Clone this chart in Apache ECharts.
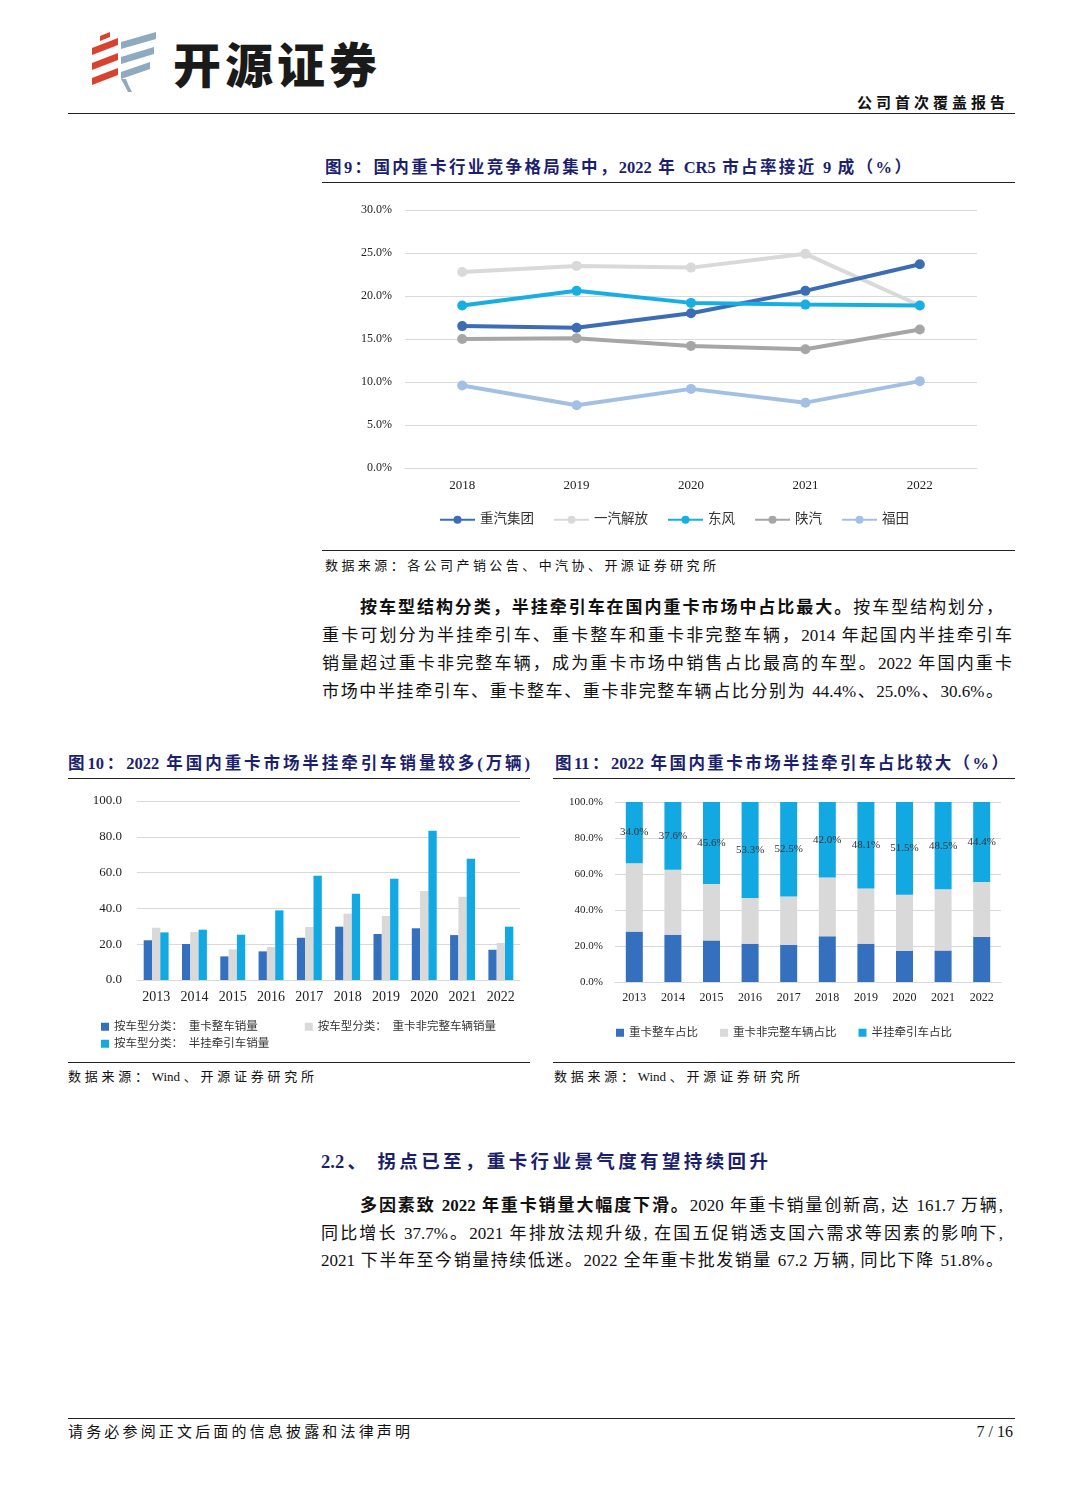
<!DOCTYPE html>
<html>
<head>
<meta charset="utf-8">
<script src="https://cdn.jsdelivr.net/npm/echarts@6/dist/echarts.min.js"></script>
<style>
html,body{margin:0;padding:0;background:#fff;}
body{width:1080px;height:1510px;position:relative;overflow:hidden;font-family:'Liberation Serif','Noto Sans CJK SC',serif;color:#111;}
.a{position:absolute;}
.j{position:absolute;text-align:justify;text-align-last:justify;line-height:22px;}
.rule{position:absolute;height:0;border-top:1.3px solid #222;}
.title{color:#1c1f6e;font-weight:bold;}
.chart{position:absolute;}
b{font-weight:bold;}
</style>
</head>
<body>
<!-- logo -->
<svg class="a" style="left:88px;top:30px" width="75" height="64" viewBox="0 0 75 64">
  <polygon points="4,18 30,8 30,15 4,25" fill="#d9422e"/>
  <polygon points="4,33 30,23 30,30 4,40" fill="#d9422e"/>
  <polygon points="4,48 30,38 30,45 4,55" fill="#d9422e"/>
  <polygon points="12,6 22,2 22,7 12,11" fill="#d9422e"/>
  <polygon points="33,12 68,2 68,9 33,19" fill="#8fa9bf"/>
  <polygon points="33,27 66,17 66,24 33,34" fill="#8fa9bf"/>
  <polygon points="33,42 62,32 62,39 33,49" fill="#8fa9bf"/>
  <path d="M33,49 Q37,56 40,62 L44,62 Q40,55 38,49 Z" fill="#8fa9bf"/>
</svg>
<div class="a" style="left:173px;top:30px;font-family:'Noto Sans CJK SC';font-weight:900;font-size:48px;line-height:64px;letter-spacing:4px;color:#1a1a1a;">开源证券</div>
<div class="j" style="left:857px;top:92px;width:148px;font-size:15px;font-weight:bold;">公司首次覆盖报告</div>
<div class="rule" style="left:68px;top:113px;width:947px;border-top-width:1.6px;"></div>

<!-- figure 9 -->
<div class="j title" style="left:325px;top:157px;width:586px;font-size:16.5px;">图9：国内重卡行业竞争格局集中，2022 年 CR5 市占率接近 9 成（%）</div>
<div class="rule" style="left:322px;top:182px;width:693px;"></div>
<div id="c1" class="chart" style="left:322px;top:190px;width:693px;height:355px;"></div>
<div class="rule" style="left:322px;top:550px;width:693px;"></div>
<div class="j" style="left:325px;top:555px;width:391px;font-size:13px;">数据来源：各公司产销公告、中汽协、开源证券研究所</div>

<!-- paragraph 1 -->
<div class="j" style="left:360px;top:597px;width:643px;font-size:17px;"><b>按车型结构分类，半挂牵引车在国内重卡市场中占比最大。</b>按车型结构划分，</div>
<div class="j" style="left:322px;top:625px;width:690px;font-size:17px;">重卡可划分为半挂牵引车、重卡整车和重卡非完整车辆，2014 年起国内半挂牵引车</div>
<div class="j" style="left:322px;top:653px;width:690px;font-size:17px;">销量超过重卡非完整车辆，成为重卡市场中销售占比最高的车型。2022 年国内重卡</div>
<div class="j" style="left:322px;top:681px;width:681px;font-size:17px;">市场中半挂牵引车、重卡整车、重卡非完整车辆占比分别为 44.4%、25.0%、30.6%。</div>

<!-- figure 10 / 11 -->
<div class="j title" style="left:68px;top:753px;width:462px;font-size:16.5px;">图10：2022 年国内重卡市场半挂牵引车销量较多(万辆)</div>
<div class="rule" style="left:68px;top:778px;width:462px;"></div>
<div class="j title" style="left:555px;top:753px;width:453px;font-size:16.5px;">图11：2022 年国内重卡市场半挂牵引车占比较大（%）</div>
<div class="rule" style="left:553px;top:778px;width:462px;"></div>
<div id="c2" class="chart" style="left:68px;top:785px;width:462px;height:270px;"></div>
<div id="c3" class="chart" style="left:553px;top:785px;width:462px;height:270px;"></div>
<div class="rule" style="left:68px;top:1062px;width:462px;"></div>
<div class="rule" style="left:553px;top:1062px;width:462px;"></div>
<div class="j" style="left:68px;top:1066px;width:246px;font-size:13px;">数据来源：Wind、开源证券研究所</div>
<div class="j" style="left:554px;top:1066px;width:246px;font-size:13px;">数据来源：Wind、开源证券研究所</div>

<!-- section 2.2 -->
<div class="j title" style="left:321px;top:1151px;width:447px;font-size:18.5px;">2.2、 拐点已至，重卡行业景气度有望持续回升</div>
<div class="j" style="left:360px;top:1195px;width:643px;font-size:17px;"><b>多因素致 2022 年重卡销量大幅度下滑。</b>2020 年重卡销量创新高, 达 161.7 万辆,</div>
<div class="j" style="left:321px;top:1223px;width:682px;font-size:17px;">同比增长 37.7%。2021 年排放法规升级, 在国五促销透支国六需求等因素的影响下,</div>
<div class="j" style="left:321px;top:1250px;width:682px;font-size:17px;">2021 下半年至今销量持续低迷。2022 全年重卡批发销量 67.2 万辆, 同比下降 51.8%。</div>

<!-- footer -->
<div class="rule" style="left:68px;top:1418px;width:947px;border-top-width:1.6px;"></div>
<div class="j" style="left:68px;top:1421px;width:342px;font-size:15px;">请务必参阅正文后面的信息披露和法律声明</div>
<div class="a" style="left:940px;top:1421px;width:73px;text-align:right;font-size:16px;line-height:22px;">7 / 16</div>

<script>
// ---------- Figure 9 data ----------
var years9 = ['2018', '2019', '2020', '2021', '2022'];
var names9 = ['重汽集团', '一汽解放', '东风', '陕汽', '福田'];
var sinotruk = [16.5, 16.3, 18.0, 20.6, 23.7];
var faw = [22.8, 23.5, 23.3, 24.9, 18.9];
var dongfeng = [18.9, 20.6, 19.2, 19.0, 18.9];
var shacman = [15.0, 15.1, 14.2, 13.8, 16.1];
var foton = [9.6, 7.3, 9.2, 7.6, 10.1];
var yTicks9 = [0, 5, 10, 15, 20, 25, 30];

// ---------- Figure 10 data (万辆) ----------
var years10 = ['2013', '2014', '2015', '2016', '2017', '2018', '2019', '2020', '2021', '2022'];
var names10 = ['按车型分类：  重卡整车销量', '按车型分类：  重卡非完整车辆销量', '按车型分类：  半挂牵引车销量'];
var completeVol = [22.2, 20.1, 13.2, 16.0, 23.6, 29.8, 25.7, 28.9, 25.1, 16.9];
var incompleteVol = [29.2, 26.8, 17.1, 18.4, 29.6, 37.1, 35.8, 49.7, 46.5, 20.7];
var tractorVol = [26.6, 28.1, 25.3, 38.9, 58.3, 48.2, 56.6, 83.4, 67.8, 29.8];
var yTicks10 = [0, 20, 40, 60, 80, 100];

// ---------- Figure 11 data (%) ----------
var names11 = ['重卡整车占比', '重卡非完整车辆占比', '半挂牵引车占比'];
var completeShare = [28.0, 26.3, 23.1, 21.3, 20.7, 25.4, 21.3, 17.4, 17.5, 25.0];
var incompleteShare = [38.0, 36.1, 31.3, 25.4, 26.8, 32.6, 30.6, 31.1, 34.0, 30.6];
var tractorShare = [34.0, 37.6, 45.6, 53.3, 52.5, 42.0, 48.1, 51.5, 48.5, 44.4];
var yTicks11 = [0, 20, 40, 60, 80, 100];

var FONT = "'Liberation Serif', 'Noto Sans CJK SC', serif";
var C_DARK = '#3470bd', C_GRAY = '#d9d9d9', C_CYAN = '#12a8e2', C_MID = '#a6a6a6', C_LIGHT = '#a3c0e4';

// ---------- chart 1 ----------
var c1 = echarts.init(document.getElementById('c1'));
var lineColors = ['#3a6db3', C_GRAY, '#17aee3', C_MID, C_LIGHT];
var lineData = [sinotruk, faw, dongfeng, shacman, foton];
c1.setOption({
  animation: false,
  textStyle: {fontFamily: FONT},
  grid: {left: 83, right: 38, top: 20, bottom: 77},
  legend: {
    data: names9, left: 112, top: 318, itemWidth: 35, itemHeight: 10, itemGap: 19,
    textStyle: {fontSize: 13.5, color: '#333', fontFamily: FONT}
  },
  xAxis: {
    type: 'category', data: years9, boundaryGap: true,
    axisLine: {lineStyle: {color: '#d9d9d9'}}, axisTick: {show: false},
    axisLabel: {fontSize: 13, color: '#222', margin: 11, fontFamily: FONT}
  },
  yAxis: {
    type: 'value', min: yTicks9[0], max: yTicks9[yTicks9.length - 1], interval: 5,
    axisLabel: {fontSize: 12, color: '#222', margin: 13, fontFamily: FONT,
      formatter: function (v) { return v.toFixed(1) + '%'; }},
    splitLine: {lineStyle: {color: '#d9d9d9'}}
  },
  series: names9.map(function (n, i) {
    return {
      name: n, type: 'line', data: lineData[i], symbol: 'circle', symbolSize: 10,
      lineStyle: {width: 4, color: lineColors[i]}, itemStyle: {color: lineColors[i]},
      z: [3, 2, 4, 2, 2][i]
    };
  })
});

// ---------- chart 2 ----------
var c2 = echarts.init(document.getElementById('c2'));
var barColors = [C_DARK, C_GRAY, C_CYAN];
var barData = [completeVol, incompleteVol, tractorVol];
c2.setOption({
  animation: false,
  textStyle: {fontFamily: FONT},
  grid: {left: 69, right: 10, top: 16, bottom: 75},
  legend: [
    {data: [names10[0], names10[1]], left: 28, top: 231, itemWidth: 8, itemHeight: 8, itemGap: 47,
     icon: 'rect', textStyle: {fontSize: 11.5, color: '#333', fontFamily: FONT}},
    {data: [names10[2]], left: 28, top: 248, itemWidth: 8, itemHeight: 8,
     icon: 'rect', textStyle: {fontSize: 11.5, color: '#333', fontFamily: FONT}}
  ],
  xAxis: {
    type: 'category', data: years10,
    axisLine: {lineStyle: {color: '#d9d9d9'}}, axisTick: {show: false},
    axisLabel: {fontSize: 14, color: '#222', margin: 10, fontFamily: FONT}
  },
  yAxis: {
    type: 'value', min: yTicks10[0], max: yTicks10[yTicks10.length - 1], interval: 20,
    axisLabel: {fontSize: 13, color: '#222', margin: 15, fontFamily: FONT,
      formatter: function (v) { return v.toFixed(1); }},
    splitLine: {lineStyle: {color: '#d9d9d9'}}
  },
  series: names10.map(function (n, i) {
    return {name: n, type: 'bar', data: barData[i], barWidth: 8.3, barGap: '0%',
      itemStyle: {color: barColors[i]}};
  })
});

// ---------- chart 3 ----------
var c3 = echarts.init(document.getElementById('c3'));
var shareData = [completeShare, incompleteShare, tractorShare];
c3.setOption({
  animation: false,
  textStyle: {fontFamily: FONT},
  grid: {left: 62, right: 14, top: 17, bottom: 73},
  legend: {
    data: names11, left: 58, top: 237, itemWidth: 8, itemHeight: 8, itemGap: 22,
    icon: 'rect', textStyle: {fontSize: 11.5, color: '#333', fontFamily: FONT}
  },
  xAxis: {
    type: 'category', data: years10,
    axisLine: {lineStyle: {color: '#d9d9d9'}}, axisTick: {show: false},
    axisLabel: {fontSize: 12, color: '#222', margin: 10, fontFamily: FONT}
  },
  yAxis: {
    type: 'value', min: yTicks11[0], max: yTicks11[yTicks11.length - 1], interval: 20,
    axisLabel: {fontSize: 11, color: '#222', margin: 12, fontFamily: FONT,
      formatter: function (v) { return v.toFixed(1) + '%'; }},
    splitLine: {lineStyle: {color: '#d9d9d9'}}
  },
  series: names11.map(function (n, i) {
    var s = {name: n, type: 'bar', stack: 'share', data: shareData[i], barWidth: 17,
      itemStyle: {color: barColors[i]}};
    if (i === 2) {
      s.label = {show: true, position: 'inside', color: '#333', fontSize: 11, fontFamily: FONT,
        formatter: function (p) { return p.value.toFixed(1) + '%'; }};
    }
    return s;
  })
});
</script>
</body>
</html>
